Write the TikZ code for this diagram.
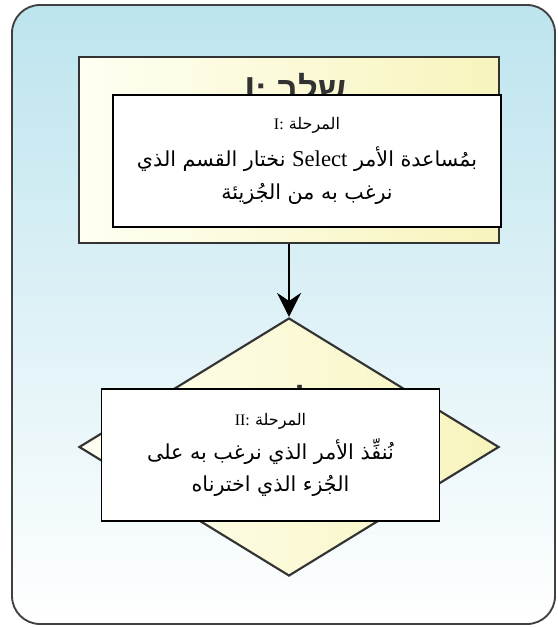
\documentclass[tikz,border=0pt]{standalone}
\usepackage{fontspec}
\usepackage{tikz}
\usepackage{xcolor}
\usetikzlibrary{calc,shapes.geometric,arrows.meta}
\setmainfont{Liberation Serif}
\newfontfamily\arabicfont[Script=Arabic]{DejaVu Sans}
\newfontfamily\hebrewfont[Script=Hebrew]{Liberation Sans}
\TeXXeTstate=1
\definecolor{frameblue}{RGB}{189,228,238}
\definecolor{paleyellow}{RGB}{247,244,188}
\definecolor{cream}{RGB}{255,255,243}
\definecolor{hebgray}{RGB}{50,50,50}

\begin{document}
\begin{tikzpicture}[x=0.75pt,y=-0.75pt]
        \tikzstyle{every node}=[inner sep=0pt]
        \tikzstyle{stage}=[draw=black!80,line width=1.6pt,left color=cream,right color=paleyellow]
        \tikzstyle{textbox}=[draw=black,line width=0.8pt,fill=white,align=center,font=\arabicfont\fontsize{15.5}{19}\selectfont]
        \tikzstyle{hebtext}=[anchor=base,text=hebgray,font=\hebrewfont\bfseries\fontsize{26}{26}\selectfont]
        \useasboundingbox (0,0) rectangle (557,627);
        \shadedraw[top color=frameblue,bottom color=white,draw=black!75,line width=1.4pt,rounded corners=21pt] (12,5) rectangle (555,624);

        % stage I
        \node[stage,minimum width=315pt,minimum height=139.5pt] (1) at (289,150) {};
        \node[hebtext] (2) at (296,102) {\beginR שלב \beginL I:\endL\endR};
        \node[textbox,minimum width=291pt,minimum height=99pt] (3) at (307,161)
            {{\fontsize{12}{14}\selectfont\beginR المرحلة \beginL{\rmfamily I:}\endL\endR}\\[9pt]
             \beginR بمُساعدة الأمر \beginL{\rmfamily\fontsize{17}{19}\selectfont Select}\endL{} نختار القسم الذي\endR\\[6pt]
             \beginR نرغب به من الجُزيئة\endR};

        % stage II
        \node[stage,diamond,minimum width=315pt,minimum height=193.5pt] (4) at (289,447) {};
        \node[hebtext] (5) at ($(4)+(0,-34)$) {\beginR שלב \beginL II:\endL\endR};
        \node[textbox,minimum width=254pt,minimum height=99pt] (6) at (270.5,455)
            {{\fontsize{12}{14}\selectfont\beginR المرحلة \beginL{\rmfamily II:}\endL\endR}\\[6pt]
             \beginR نُنفِّذ الأمر الذي نرغب به على\endR\\[5pt]
             \beginR الجُزء الذي اخترناه\endR};

        \draw[-{Stealth[length=18pt,width=18pt,inset=6pt]},line width=1.2pt] (1) -- (4);
\end{tikzpicture}
\end{document}
